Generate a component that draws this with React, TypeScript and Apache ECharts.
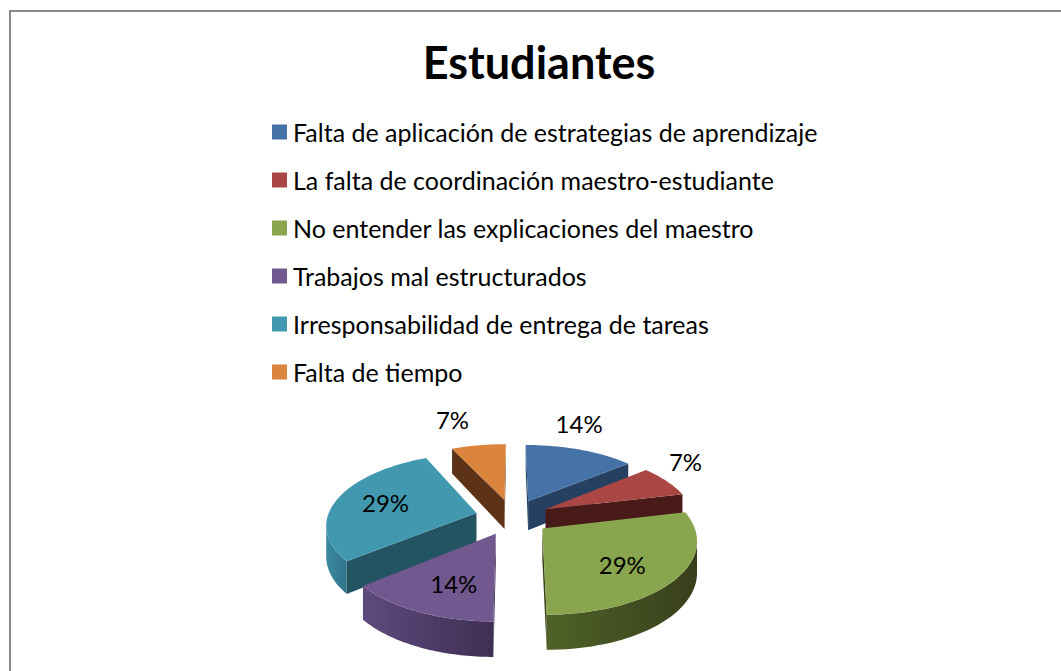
import React, { useEffect, useRef } from "react";
import * as echarts from "echarts";

const titleText = "Estudiantes";
const categories = [
  "Falta de aplicación de estrategias de aprendizaje",
  "La falta de coordinación maestro-estudiante",
  "No entender las explicaciones del maestro",
  "Trabajos mal estructurados",
  "Irresponsabilidad de entrega de tareas",
  "Falta de tiempo",
];
const values = [2, 1, 4, 2, 4, 1];
const topColors = ["#4572A7", "#AA4643", "#89A54E", "#71588F", "#4198AF", "#DB843D"];
const wallColors = ["#254061", "#481B19", "#3A451C", "#3F2F54", "#235461", "#5C3317"];
const arcLight = ["#2F4B70", "#5A2523", "#4F6228", "#5F4A7D", "#3A8AA0", "#7A4620"];
const arcDark = ["#254061", "#481B19", "#373F1B", "#3F2F54", "#2F7488", "#5C3317"];
const stacking = [2, 3, 6, 5, 4, 1];
const labelNudge = [[51, -78], [140, -48], [80, 36], [-42, 50], [-91, -11], [-52, -81]];

const W = 1061, H = 671;
const CX = 512.5, CY = 517, R = 149, RY = 72, K = 0.15, DEPTH = 30, EXPLODE = 0.25;
const total = values.reduce((a, b) => a + b, 0);

function project(u: number, v: number, lift: number) {
  const s = 1 + K * v;
  return [CX + R * u * s, CY + RY * v * s + lift * s];
}

function sliceShape(index: number, api: any) {
  const value = api.value(0);
  const before = values.slice(0, index).reduce((a, b) => a + b, 0);
  const a0 = (before / total) * Math.PI * 2;
  const a1 = ((before + value) / total) * Math.PI * 2;
  const mid = (a0 + a1) / 2;
  const ou = EXPLODE * Math.sin(mid);
  const ov = -EXPLODE * Math.cos(mid);
  const steps = 48;
  const rim: number[][] = [];
  for (let i = 0; i <= steps; i++) {
    const a = a0 + ((a1 - a0) * i) / steps;
    rim.push([ou + Math.sin(a), ov - Math.cos(a)]);
  }
  const z2 = stacking[index] * 10;
  const wallOf = (p: number[], q: number[]) => [
    project(p[0], p[1], 0),
    project(q[0], q[1], 0),
    project(q[0], q[1], DEPTH),
    project(p[0], p[1], DEPTH),
  ];
  const children: any[] = [];
  const apex = [ou, ov];
  const radial = [[apex, rim[0]], [rim[steps], apex]];
  radial.forEach(([p, q]) => {
    const a = project(p[0], p[1], 0), b = project(q[0], q[1], 0);
    if (b[0] < a[0]) {
      children.push({
        type: "polygon", z2,
        shape: { points: wallOf(p, q) },
        style: { fill: wallColors[index] },
      });
    }
  });
  // outer wall: only the front-facing stretch of the rim
  const front: number[][] = [];
  for (let i = 0; i < steps; i++) {
    const a = project(rim[i][0], rim[i][1], 0), b = project(rim[i + 1][0], rim[i + 1][1], 0);
    if (b[0] < a[0]) {
      if (!front.length) front.push(rim[i]);
      front.push(rim[i + 1]);
    }
  }
  if (front.length > 1) {
    const topEdge = front.map((p) => project(p[0], p[1], 0));
    const lowEdge = front.map((p) => project(p[0], p[1], DEPTH)).reverse();
    children.push({
      type: "polygon", z2,
      shape: { points: topEdge.concat(lowEdge) },
      style: {
        fill: new echarts.graphic.LinearGradient(0, 0, 1, 0, [
          { offset: 0, color: arcLight[index] },
          { offset: 1, color: arcDark[index] },
        ]),
      },
    });
  }
  const top = [apex, ...rim].map((p) => project(p[0], p[1], 0));
  children.push({
    type: "polygon", z2: z2 + 1,
    shape: { points: top },
    style: { fill: topColors[index] },
  });
  const ap = project(apex[0], apex[1], 0);
  children.push({
    type: "text", z2: 100,
    x: ap[0] + labelNudge[index][0],
    y: ap[1] + labelNudge[index][1],
    style: {
      text: Math.round((value / total) * 100) + "%",
      fill: "#000", font: "24px Lato", textAlign: "center", textVerticalAlign: "middle",
    },
  });
  return { type: "group", children };
}

export default function App() {
  const ref = useRef<HTMLDivElement>(null);
  useEffect(() => {
    const chart = echarts.init(ref.current!, undefined, { renderer: "svg" });
    chart.setOption({
      animation: false,
      backgroundColor: "#fff",
      title: {
        text: titleText, left: 534, top: 34, textAlign: "center",
        textStyle: { fontFamily: "Lato", fontWeight: "bold", fontSize: 45, color: "#000" },
      },
      legend: {
        orient: "vertical", left: 267, top: 114,
        itemWidth: 15, itemHeight: 15, itemGap: 22,
        icon: "rect", selectedMode: false,
        textStyle: { fontFamily: "Lato", fontSize: 25, color: "#000", padding: [0, 0, 0, 1], lineHeight: 26 },
        data: categories,
      },
      graphic: [{
        type: "polyline", silent: true,
        shape: { points: [[10, H], [10, 11], [W, 11]] },
        style: { fill: "none", stroke: "#8A8A8A", lineWidth: 2 },
      }],
      series: categories.map((name, index) => ({
        type: "custom", name, coordinateSystem: "none",
        z: stacking[index],
        itemStyle: { color: topColors[index] },
        data: [[values[index]]],
        renderItem: (_p: any, api: any) => sliceShape(index, api),
      })),
    });
    return () => chart.dispose();
  }, []);
  return <div ref={ref} style={{ position: "absolute", left: 0, top: 0, width: W, height: H }} />;
}
